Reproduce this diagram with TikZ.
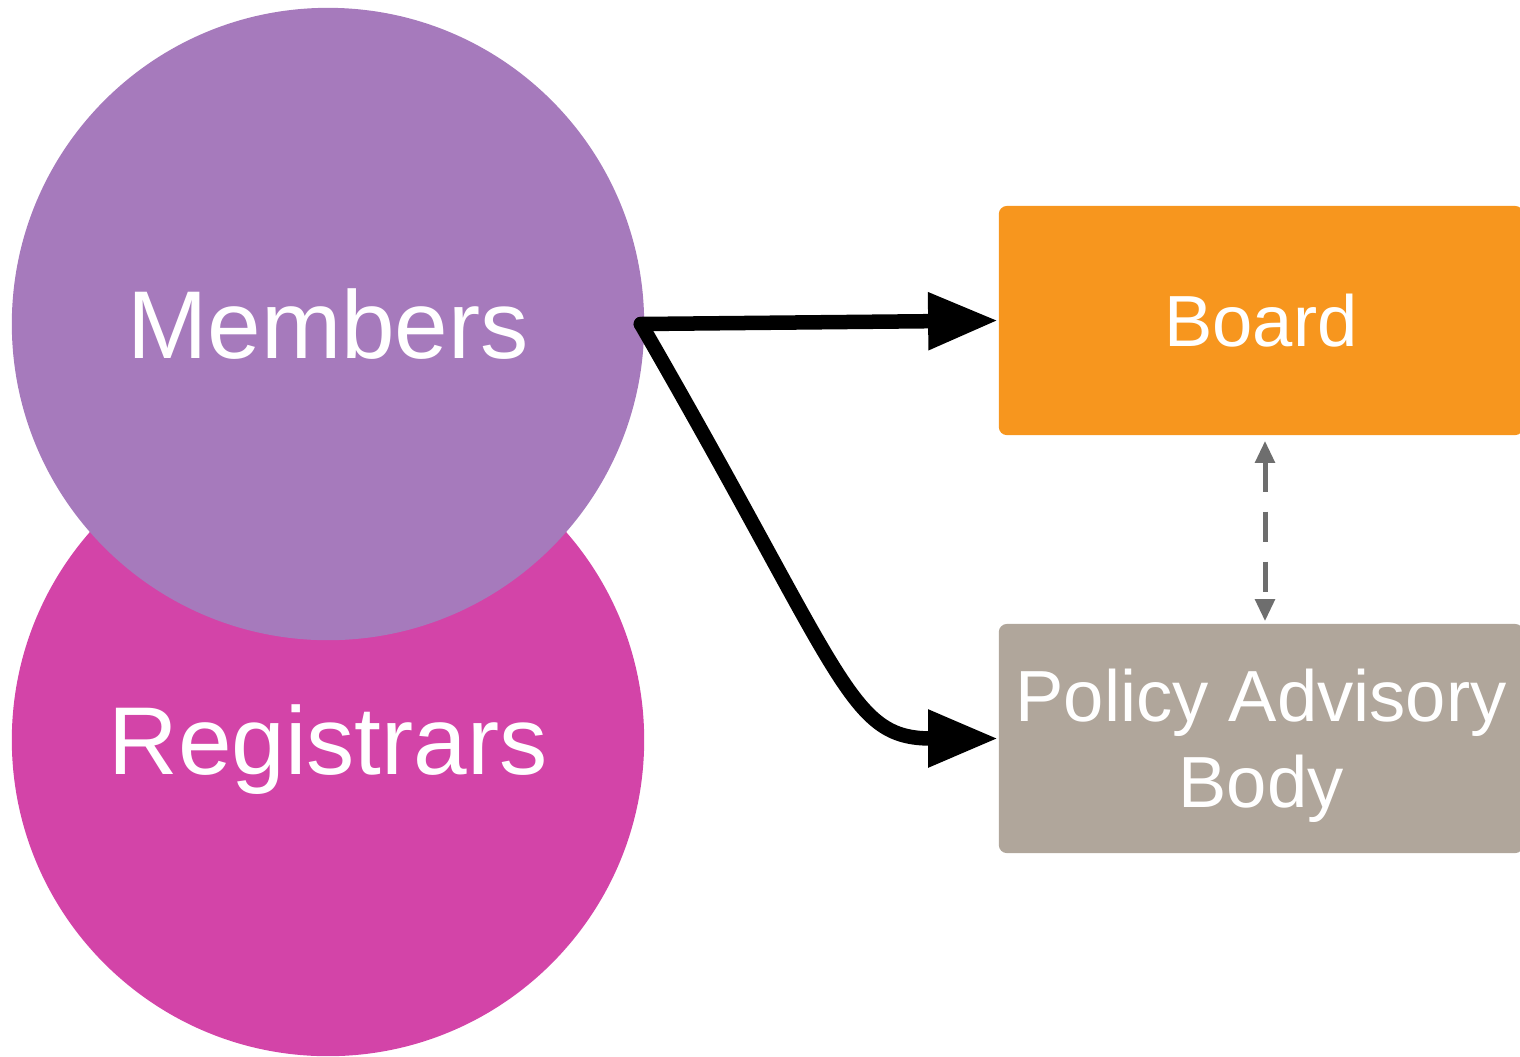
\documentclass[tikz,border=0pt]{standalone}
\usepackage{fontspec}
\setmainfont{Liberation Sans}
\usetikzlibrary{arrows.meta}
\definecolor{memcol}{RGB}{166,122,188}
\definecolor{regcol}{RGB}{211,68,168}
\definecolor{boardcol}{RGB}{247,150,30}
\definecolor{pabcol}{RGB}{176,166,155}
\definecolor{dashcol}{RGB}{110,110,110}
\tikzset{
  circ/.style={circle, minimum size=6.32cm, inner sep=0pt, text=white, text depth=0pt,
    font=\fontsize{27.4}{32}\selectfont},
  boxnode/.style={rectangle, rounded corners=0.08cm, minimum width=5.24cm, minimum height=2.29cm,
    inner sep=0pt, text=white, text depth=0pt, align=center,
    font=\fontsize{20.6}{24.5}\selectfont},
  bigarrow/.style={line width=0.145cm, line cap=round, -{Triangle[length=0.7cm, width=0.54cm]}},
  dasharrow/.style={dashcol, line width=0.05cm, dash pattern=on 0.3cm off 0.2cm,
    {Triangle[length=0.22cm, width=0.19cm]}-{Triangle[length=0.22cm, width=0.19cm]}}
}
\begin{document}
\begin{tikzpicture}[x=0.01cm, y=-0.01cm]
\useasboundingbox (0,0) rectangle (1520,1056);
\clip (0,0) rectangle (1520,1056);
\node[circ, fill=regcol] (r) at (328,740) {Registrars};
\node[circ, fill=memcol] (m) at (328,324) {Members};
\node[boxnode, fill=boardcol] (b) at (1261,320.5) {Board};
\node[boxnode, fill=pabcol] (p) at (1261,738.5) {Policy Advisory\\Body};
\coordinate (s) at ([xshift=-0.04cm]m.east);
\draw[bigarrow] (s) -- (b.west);
\draw[bigarrow] (s) to[out=-60, in=180, out distance=4.1cm, in distance=1.5cm] (p.west);
\draw[dasharrow, shorten <=0.05cm, shorten >=0.02cm] ([xshift=0.04cm]b.south) -- ([xshift=0.04cm]p.north);
\end{tikzpicture}
\end{document}
